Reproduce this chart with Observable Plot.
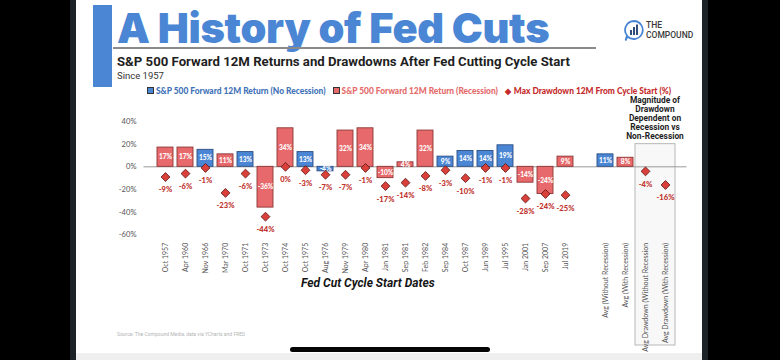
<!DOCTYPE html>
<html>
<head>
<meta charset="utf-8">
<script src="https://cdn.jsdelivr.net/npm/d3@7"></script>
<script src="https://cdn.jsdelivr.net/npm/@observablehq/plot@0.6"></script>
<style>
  html, body { margin: 0; padding: 0; background: #000; }
  body { width: 780px; height: 360px; position: relative; overflow: hidden; font-family: Lato, "Open Sans", sans-serif; }
  .abs { position: absolute; }
  #panel { left: 76px; top: 0; width: 626px; height: 360px; background: #fff; }
  .strip { top: 0; width: 6px; height: 360px; background: #1d2229; }
  #accent { left: 93px; top: 5px; width: 19px; height: 82px; background: #4a86d4; }
  #title { left: 117px; top: 6px; font-family: Inter, Roboto, sans-serif; font-weight: 900; font-size: 41.5px; color: #4a86d4; letter-spacing: -0.3px; white-space: nowrap; line-height: 44px; }
  #rule { left: 113px; top: 47px; width: 483px; height: 1.5px; background: #8a8a8a; }
  #subtitle { left: 117px; top: 54px; font-family: Roboto, Inter, sans-serif; font-weight: 700; font-size: 13.2px; color: #1f1f1f; white-space: nowrap; }
  #since { left: 117px; top: 70px; font-family: Roboto, sans-serif; font-size: 9.5px; color: #333; white-space: nowrap; }
  #logoText { left: 646px; top: 21px; font-family: Roboto, sans-serif; font-weight: 500; font-size: 8.5px; line-height: 9.8px; color: #3a3a3a; }
  #legend { left: 147px; top: 86px; font-family: Lato, "Open Sans", sans-serif; font-weight: 900; font-size: 8.4px; white-space: nowrap; display: flex; gap: 7px; align-items: center; }
  #legend span.sw { display: inline-block; width: 5px; height: 5px; margin-right: 2px; border: 0.8px solid #333; vertical-align: middle; position: relative; top: -1px; }
  #xtitle { left: 301px; top: 276px; font-family: Roboto, Inter, sans-serif; font-weight: 700; font-style: italic; font-size: 12px; color: #151515; white-space: nowrap; }
  #source { left: 117px; top: 331px; font-family: Roboto, sans-serif; font-size: 5px; color: #b5b5b5; white-space: nowrap; }
  #bottomband { left: 76px; top: 353px; width: 626px; height: 7px; background: #efefef; }
  #pill { left: 290px; top: 347px; width: 200px; height: 5px; border-radius: 3px; background: #050505; }
  #chart { left: 0; top: 0; }
</style>
</head>
<body>
<div id="panel" class="abs"></div>
<div class="abs strip" style="left:70px"></div>
<div class="abs strip" style="left:702px"></div>
<div id="bottomband" class="abs"></div>
<div id="chart" class="abs"></div>
<div id="accent" class="abs"></div>
<div id="title" class="abs">A History of Fed Cuts</div>
<div id="rule" class="abs"></div>
<div id="subtitle" class="abs">S&amp;P 500 Forward 12M Returns and Drawdowns After Fed Cutting Cycle Start</div>
<div id="since" class="abs">Since 1957</div>
<svg class="abs" style="left:623px;top:19px" width="22" height="24" viewBox="0 0 22 24">
  <path d="M11 2 A9 9 0 1 1 4.5 17.5 L2.5 21.5 L4 16.5 A9 9 0 0 1 11 2 Z" fill="none" stroke="#4a86d4" stroke-width="1.8"/>
  <rect x="7" y="11" width="2" height="5" fill="#2f4f7a"/>
  <rect x="10" y="8" width="2" height="8" fill="#2f4f7a"/>
  <rect x="13" y="5.5" width="2" height="10.5" fill="#2f4f7a"/>
</svg>
<div id="logoText" class="abs">THE<br>COMPOUND</div>
<div id="legend" class="abs">
  <div style="color:#3f72b8"><span class="sw" style="background:#4a86d4"></span>S&amp;P 500 Forward 12M Return (No Recession)</div>
  <div style="color:#e56a6a"><span class="sw" style="background:#e8696b"></span>S&amp;P 500 Forward 12M Return (Recession)</div>
  <div style="color:#c42a2a"><span style="font-size:8px;margin-right:3px">&#9670;</span>Max Drawdown 12M From Cycle Start (%)</div>
</div>
<div id="xtitle" class="abs">Fed Cut Cycle Start Dates</div>
<div id="source" class="abs">Source: The Compound Media, data via YCharts and FRED</div>
<div id="pill" class="abs"></div>

<script>
// ---- Data ----
const dates = ["Oct 1957","Apr 1960","Nov 1966","Mar 1970","Oct 1971","Oct 1973","Oct 1974","Oct 1975","Aug 1976","Nov 1979","Apr 1980","Jan 1981","Sep 1981","Feb 1982","Sep 1984","Oct 1987","Jun 1989","Jul 1995","Jan 2001","Sep 2007","Jul 2019"];
const returns = [17, 17, 15, 11, 13, -36, 34, 13, -4, 32, 34, -10, 4, 32, 9, 14, 14, 19, -14, -24, 9];
const recession = [1, 1, 0, 1, 0, 1, 1, 0, 0, 1, 1, 1, 1, 1, 0, 0, 0, 0, 1, 1, 1];
const drawdowns = [-9, -6, -1, -23, -6, -44, 0, -3, -7, -7, -1, -17, -14, -8, -3, -10, -1, -1, -28, -24, -25];
const avgLabels = ["Avg (Without Recession)", "Avg (With Recession)"];
const avgReturns = [11, 8];
const avgRecession = [0, 1];
const avgDrawdownLabels = ["Avg Drawdown (Without Recession", "Avg Drawdown (With Recession)"];
const avgDrawdowns = [-4, -16];
const yTicks = [-60, -40, -20, 0, 20, 40];
const noteLines = ["Magnitude of", "Drawdown", "Dependent on", "Recession vs", "Non-Recession"];

// ---- Tables built from the arrays ----
const gapKey = "gap";
const domain = [...dates, gapKey, ...avgLabels, ...avgDrawdownLabels];
const bars = [
  ...dates.map((d, i) => ({x: d, v: returns[i], rec: recession[i]})),
  ...avgLabels.map((d, i) => ({x: d, v: avgReturns[i], rec: avgRecession[i]}))
];
const dds = [
  ...dates.map((d, i) => ({x: d, v: drawdowns[i]})),
  ...avgDrawdownLabels.map((d, i) => ({x: d, v: avgDrawdowns[i]}))
];
const pct = v => `${v}%`;

const BLUE = "#4a86d4", BLUE_S = "#2c4e84";
const RED = "#e8696b", RED_S = "#8c3535";
const DIA = "#d9403a", DIA_S = "#5e1414", DD_TXT = "#c0322d";

// annotation box around the average drawdown categories
function noteBox(index, scales, values, dimensions) {
  const x = scales.x, y = scales.y;
  const bw = x.bandwidth ? x.bandwidth() : 0;
  const step = x.step ? x.step() : bw;
  const pad = (step - bw) / 2;
  const x0 = x(avgDrawdownLabels[0]) - pad;
  const x1 = x(avgDrawdownLabels[1]) + bw + pad;
  const top = y(20);
  const bottom = dimensions.height - 15;
  const g = d3.create("svg:g");
  g.append("rect").attr("x", x0).attr("y", top).attr("width", x1 - x0).attr("height", bottom - top)
    .attr("fill", "#f8f8f8").attr("stroke", "#b8b8b8").attr("stroke-width", 1);
  const cx = (x0 + x1) / 2;
  const t = g.append("text").attr("text-anchor", "middle")
    .attr("font-family", "Roboto, Inter, sans-serif").attr("font-weight", 700)
    .attr("font-size", 8.4).attr("fill", "#1e1e1e");
  noteLines.forEach((line, i) => {
    t.append("tspan").attr("x", cx).attr("y", top - 41 + i * 9.1).text(line);
  });
  return g.node();
}

const plot = Plot.plot({
  width: 780,
  height: 360,
  marginLeft: 143.5,
  marginRight: 93.5,
  marginTop: 121,
  marginBottom: 125.7,
  style: {background: "transparent", fontFamily: "Lato, 'Open Sans', sans-serif", color: "#555", overflow: "visible"},
  x: {domain, paddingInner: 0.2, paddingOuter: 0.1, label: null},
  y: {domain: [-60, 40], label: null},
  marks: [
    noteBox,
    Plot.axisY({ticks: yTicks, tickFormat: pct, tickSize: 0, tickPadding: 7.5, fontSize: 7.6, fill: "#555", label: null}),
    Plot.axisX({tickRotate: -90, tickSize: 0, tickPadding: 8, fontSize: 7, fill: "#555", label: null,
      tickFormat: d => d === gapKey ? "" : d}),
    Plot.ruleY([0], {stroke: "#9a9a9a", strokeWidth: 1}),
    Plot.barY(bars.filter(d => d.rec === 0), {x: "x", y: "v", fill: BLUE, stroke: BLUE_S, strokeWidth: 0.9}),
    Plot.barY(bars.filter(d => d.rec === 1), {x: "x", y: "v", fill: RED, stroke: RED_S, strokeWidth: 0.9}),
    Plot.text(bars, {x: "x", y: d => d.v / 2, text: d => pct(d.v), fill: "white", fontWeight: 900, fontSize: 6.6,
      fontFamily: "Lato, sans-serif"}),
    Plot.dot(dds, {x: "x", y: "v", symbol: "diamond2", r: 4, fill: DIA, stroke: DIA_S, strokeWidth: 0.8}),
    Plot.text(dds, {x: "x", y: "v", dy: 13, text: d => pct(d.v), fill: DD_TXT, fontWeight: 900, fontSize: 7.6,
      fontFamily: "Lato, sans-serif"})
  ]
});
document.getElementById("chart").appendChild(plot);
</script>
</body>
</html>
